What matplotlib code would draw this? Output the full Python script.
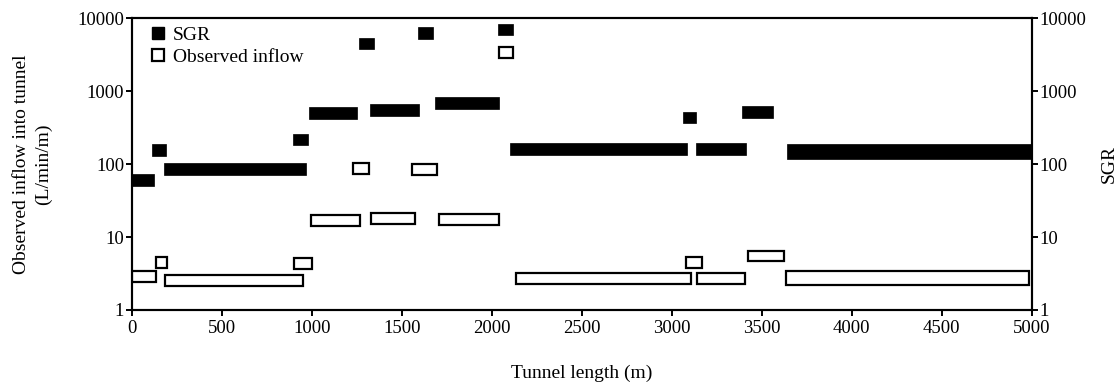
import matplotlib
matplotlib.use("Agg")
import matplotlib.pyplot as plt
from matplotlib.lines import Line2D

plt.rcParams['font.family'] = ['Liberation Serif', 'DejaVu Serif']

# SGR segments: start (m), end (m), value
sgr_start = [0, 115, 181, 898, 983, 1261, 1324, 1591, 1687, 2037, 2102, 3063, 3137, 3392, 3642]
sgr_end   = [125, 192, 967, 981, 1253, 1344, 1594, 1674, 2042, 2120, 3083, 3137, 3414, 3565, 5000]
sgr_value = [60, 155, 86, 217, 507, 4500, 555, 6270, 692, 7030, 160, 438, 160, 518, 150]

# Observed inflow segments: start (m), end (m), value (L/min/m)
obs_start = [0, 133, 185, 900, 998, 1231, 1328, 1557, 1709, 2039, 2135, 3080, 3139, 3422, 3635]
obs_end   = [135, 194, 953, 1002, 1268, 1317, 1576, 1695, 2039, 2117, 3108, 3168, 3407, 3626, 4985]
obs_value = [2.9, 4.5, 2.54, 4.3, 17.1, 88, 17.8, 85, 17.3, 3400, 2.7, 4.47, 2.7, 5.5, 2.74]

yticks = [1, 10, 100, 1000, 10000]
xticks = [0, 500, 1000, 1500, 2000, 2500, 3000, 3500, 4000, 4500, 5000]

# style: bar thickness in decades
sgr_h = [0.16] * 14 + [0.21]
obs_h = [0.15] * 14 + [0.20]

FS = 13.5

fig = plt.figure(figsize=(11.17, 3.87), dpi=100)
ax = fig.add_axes([0.1179, 0.199, 0.8057, 0.7537])
ax.set_yscale('log')
ax.set_xlim(0, 5000)
ax.set_ylim(1, 10000)

def draw(starts, ends, vals, hs, **kw):
    bottoms = [v * 10 ** (-h / 2) for v, h in zip(vals, hs)]
    heights = [v * 10 ** (h / 2) - b for v, h, b in zip(vals, hs, bottoms)]
    widths = [e - s for s, e in zip(starts, ends)]
    ax.bar(starts, heights, width=widths, bottom=bottoms, align='edge', **kw)

draw(sgr_start, sgr_end, sgr_value, sgr_h, color='black', edgecolor='black', linewidth=0.5, zorder=3)
draw(obs_start, obs_end, obs_value, obs_h, color='white', edgecolor='black', linewidth=1.6, zorder=3)

ax.set_xticks(xticks)
ax.set_xticklabels([str(x) for x in xticks], fontsize=FS)
ax.set_yticks(yticks)
ax.set_yticklabels([str(y) for y in yticks], fontsize=FS)
ax.minorticks_off()
ax.tick_params(axis='x', direction='out', length=4.5, width=1.4, pad=3)
ax.tick_params(axis='y', direction='out', length=4.5, width=1.4, pad=1)
for s in ax.spines.values():
    s.set_linewidth(1.5)
ax.set_xlabel('Tunnel length (m)', fontsize=FS + 0.5, labelpad=20)
ax.set_ylabel('Observed inflow into tunnel\n(L/min/m)', fontsize=FS + 0.5,
              labelpad=18, linespacing=1.4)

ax2 = ax.twinx()
ax2.set_yscale('log')
ax2.set_ylim(1, 10000)
ax2.set_yticks(yticks)
ax2.set_yticklabels([str(y) for y in yticks], fontsize=FS)
ax2.minorticks_off()
ax2.tick_params(direction='out', length=4.5, width=1.4, pad=1)
ax2.set_ylabel('SGR', fontsize=FS + 0.5)
ax2.yaxis.set_label_coords(1.077, 0.5)
for s in ax2.spines.values():
    s.set_linewidth(1.5)

handles = [Line2D([], [], marker='s', linestyle='none', markersize=9,
                  markerfacecolor='black', markeredgecolor='black'),
           Line2D([], [], marker='s', linestyle='none', markersize=8.5,
                  markerfacecolor='white', markeredgecolor='black', markeredgewidth=1.6)]
ax.legend(handles, ['SGR', 'Observed inflow'], loc='upper left', frameon=False,
          fontsize=FS + 0.5, handlelength=0.8, handletextpad=0.35, labelspacing=0.25,
          borderaxespad=0.0, bbox_to_anchor=(0.012, 1.0))

fig.savefig('out.png', dpi=100)
